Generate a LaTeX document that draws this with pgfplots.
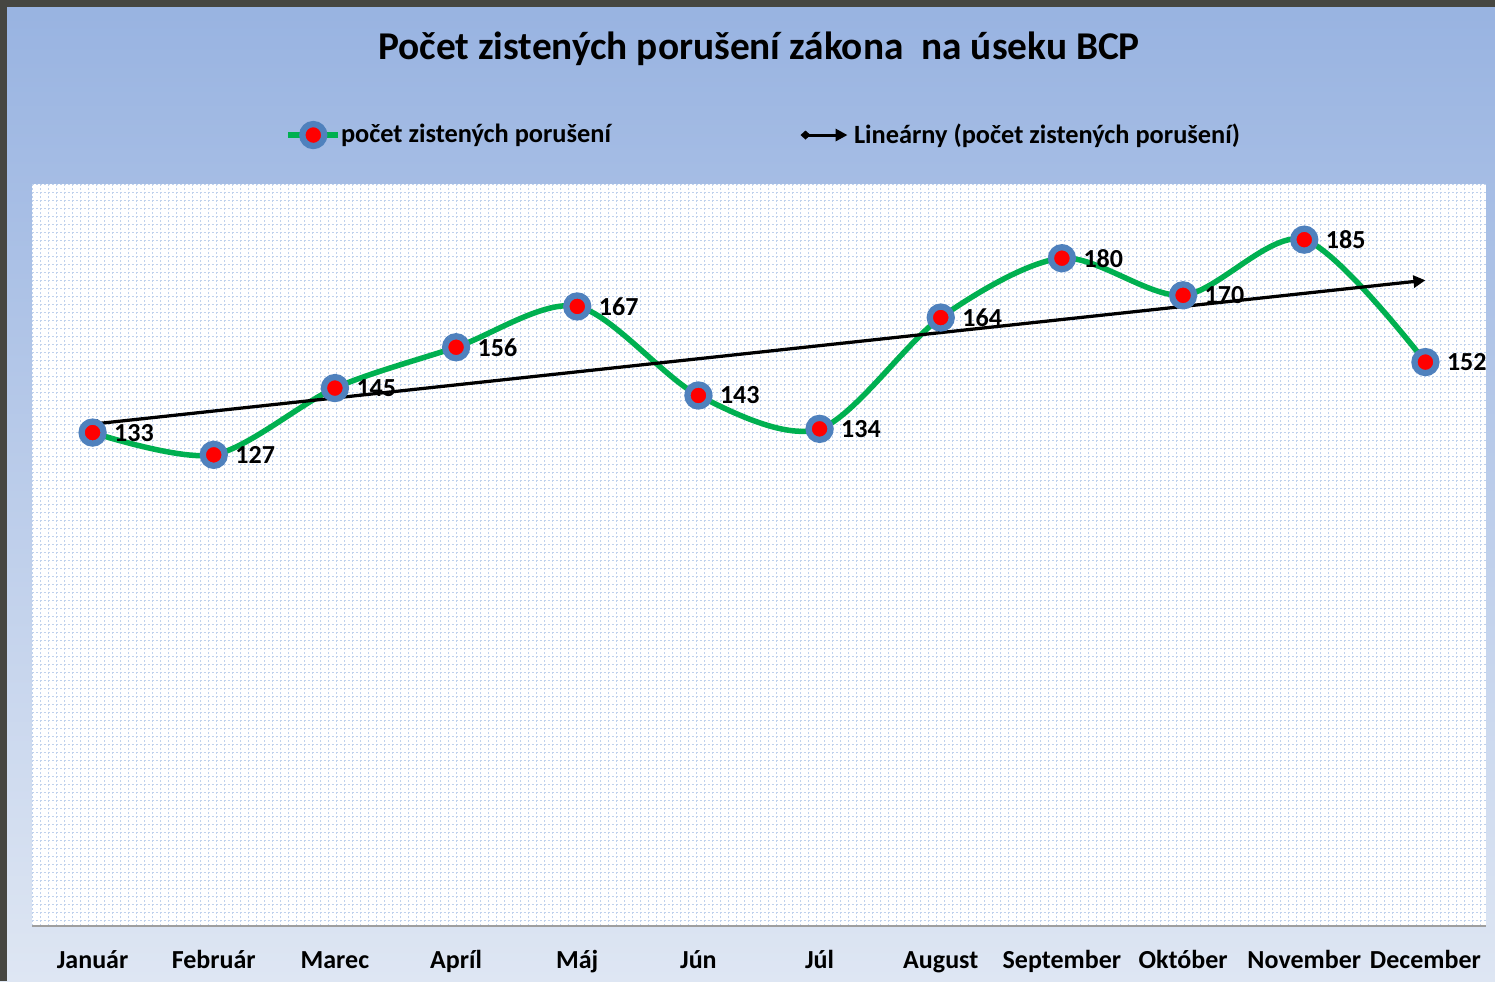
\documentclass[border=0pt]{standalone}
\usepackage{fontspec}
\setmainfont{Carlito}
\usepackage{pgfplots}
\pgfplotsset{compat=1.18}
\usetikzlibrary{arrows.meta}
\definecolor{bgtop}{RGB}{152,179,225}
\definecolor{bgbot}{RGB}{222,230,243}
\definecolor{gridblue}{RGB}{192,210,237}
\definecolor{mkblue}{RGB}{79,129,189}
\definecolor{linegreen}{RGB}{0,176,80}
\definecolor{frame}{RGB}{70,70,65}

\begin{document}
\begin{tikzpicture}
\useasboundingbox (0,0) rectangle (299mm,-196.2mm);
% background and frame
\shade[top color=bgtop, bottom color=bgbot] (0,0) rectangle (299mm,-196.2mm);
\fill[frame] (0,0) rectangle (299mm,-1.3mm);
\fill[frame] (0,0) rectangle (1.3mm,-196.2mm);
% plot area with small grid
\fill[white] (6.4mm,-36.8mm) rectangle (297.2mm,-185.2mm);
\begin{scope}
  \clip (6.4mm,-36.8mm) rectangle (297.2mm,-185.2mm);
  \draw[gridblue, line width=0.2mm, dash pattern=on 0.4mm off 0.4mm, step=1.6mm] (6.4mm,-36.8mm) grid (297.2mm,-185.2mm);
\end{scope}
\node[font=\fontsize{22.4}{26}\selectfont\bfseries] at (151.8mm,-9.7mm) {Počet zistených porušení zákona\ \ na úseku BCP};

\begin{axis}[
    at={(6.4mm,-185.2mm)}, anchor=south west,
    scale only axis, width=290.8mm, height=148.4mm,
    xmin=-0.5, xmax=11.5, ymin=0, ymax=200,
    axis x line*=bottom, axis y line=none,
    x axis line style={draw=gray!75, line width=0.4mm, -},
    xtick={0,...,11},
    xticklabels={Január,Február,Marec,Apríl,Máj,Jún,Júl,August,September,Október,November,December},
    major tick length=0pt,
    xticklabel style={anchor=base, yshift=-8.4mm, font=\fontsize{14.8}{17}\selectfont\bfseries},
    ytick=\empty,
    clip=false,
    /pgf/number format/assume math mode=true,
    legend columns=2,
    legend cell align=left,
    legend style={at={(0.1705,1.066)}, anchor=west, draw=none, fill=none,
        font=\fontsize{15}{17}\selectfont\bfseries,
        nodes={inner xsep=0pt},
        /tikz/every even column/.append style={column sep=37.6mm}},
]
\addplot[linegreen, line width=1.1mm, smooth,
    mark=*, mark size=2.2mm,
    mark options={fill=red, draw=mkblue, line width=1.25mm, solid},
    nodes near coords,
    every node near coord/.append style={anchor=west, xshift=3.7mm, inner sep=0pt, text=black,
        font=\fontsize{14.8}{17}\selectfont\bfseries},
    legend image code/.code={\draw[mark repeat=2,mark phase=2] plot coordinates {(0mm,0mm) (5mm,0mm) (10mm,0mm)};}]
  coordinates {(0,133) (1,127) (2,145) (3,156) (4,167) (5,143) (6,134) (7,164) (8,180) (9,170) (10,185) (11,152)};
\addlegendentry{počet zistených porušení}
\addplot[black, line width=0.65mm, {Diamond[length=2mm,width=1.8mm]}-{Triangle[length=2.4mm,width=2.4mm]},
    legend image code/.code={\draw[black, line width=0.6mm, {Diamond[length=2mm,width=1.8mm]}-{Triangle[length=2.4mm,width=2.4mm]}] (0mm,0mm) -- (9.4mm,0mm);}]
  coordinates {(0,135.28) (11,174.05)};
\addlegendentry{\hspace{1mm}Lineárny (počet zistených porušení)}
\end{axis}
\end{tikzpicture}
\end{document}
